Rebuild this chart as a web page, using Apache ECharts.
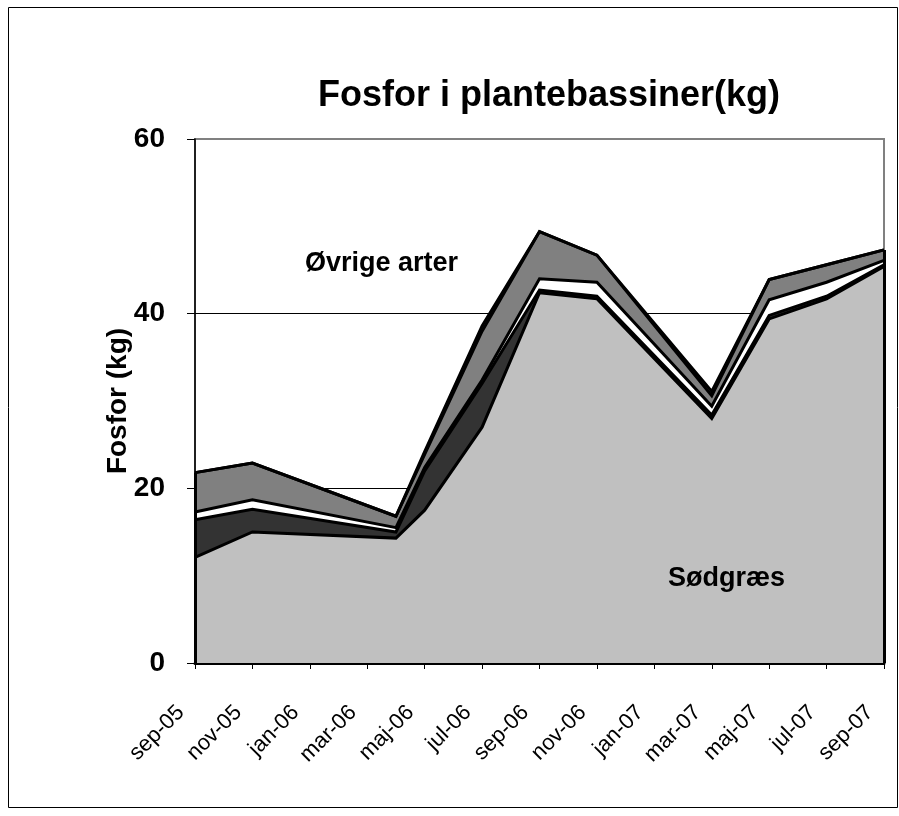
<!DOCTYPE html>
<html>
<head>
<meta charset="utf-8">
<script src="https://cdn.jsdelivr.net/npm/echarts@6/dist/echarts.min.js"></script>
<style>
  html, body { margin: 0; padding: 0; background: #fff; }
  #chart { width: 899px; height: 816px; }
</style>
</head>
<body>
<div id="chart"></div>
<script>
// Months counted from sep-05 (0) to sep-07 (24); sampling dates of the basins.
const sampleMonths = [0, 2, 7, 8, 10, 12, 14, 18, 20, 22, 24];

// Axis tick labels, one every second month.
const tickLabels = ['sep-05', 'nov-05', 'jan-06', 'mar-06', 'maj-06', 'jul-06', 'sep-06',
                    'nov-06', 'jan-07', 'mar-07', 'maj-07', 'jul-07', 'sep-07'];

// Phosphorus per plant group (kg), listed from the bottom layer up.
const soedgraes    = [12.1, 15.0, 14.3, 17.5, 27.0, 42.4, 41.7, 28.0, 39.4, 41.7, 45.4];
const moerkLag     = [4.3, 2.6, 0.7, 4.5, 5.0, 0.3, 0.3, 0.4, 0.4, 0.3, 0.2];
const hvidLag      = [0.9, 1.1, 0.5, 0.4, 0.4, 1.3, 1.6, 1.0, 1.8, 1.6, 0.5];
const oevrigeArter = [4.5, 4.2, 1.3, 1.5, 5.6, 5.4, 3.1, 1.2, 2.3, 2.0, 1.2];
const lillaLag     = [0, 0, 0, 0, 0, 0, 0, 0, 0, 0, 0];
const oeversteLag  = [0, 0, 0, 0.3, 0.6, 0, 0, 0.5, 0, 0, 0];

// Running totals: each layer is drawn as an area down to zero, the higher
// totals first so the lower layers paint over them.
const layers = [soedgraes, moerkLag, hvidLag, oevrigeArter, lillaLag, oeversteLag];
const cumulative = [];
layers.forEach((layer, k) => {
  cumulative.push(layer.map((v, i) => v + (k ? cumulative[k - 1][i] : 0)));
});
const pairs = arr => sampleMonths.map((m, i) => [m, +arr[i].toFixed(3)]);
const totals = cumulative[cumulative.length - 1];

const FONT = 'Liberation Sans, Arial, sans-serif';

function areaSeries(name, data, fill, extra) {
  return Object.assign({
    name: name,
    type: 'line',
    data: pairs(data),
    symbol: 'none',
    lineStyle: { color: '#000', width: 3, join: 'miter' },
    areaStyle: { color: fill, opacity: 1 },
    animation: false
  }, extra || {});
}

const chart = echarts.init(document.getElementById('chart'), null, { renderer: 'canvas' });

chart.setOption({
  backgroundColor: '#fff',
  animation: false,
  title: {
    text: 'Fosfor i plantebassiner(kg)',
    left: 544, top: 73, textAlign: 'center',
    textStyle: { fontFamily: FONT, fontWeight: 'bold', fontSize: 36, color: '#000' }
  },
  grid: {
    left: 195, right: 15, top: 139, bottom: 153,
    show: true, borderColor: '#808080', borderWidth: 2, backgroundColor: '#fff'
  },
  xAxis: {
    type: 'value', min: 0, max: 24, interval: 2,
    axisLine: { show: true, onZero: false, lineStyle: { color: '#000', width: 3 } },
    axisTick: { show: true, length: 6, lineStyle: { color: '#000', width: 1 } },
    splitLine: { show: false },
    axisLabel: {
      rotate: 45, margin: 32, padding: [0, 20, 0, 0],
      fontFamily: FONT, fontSize: 22, color: '#000',
      formatter: v => tickLabels[Math.round(v / 2)] || ''
    }
  },
  yAxis: {
    type: 'value', min: 0, max: 60, interval: 20,
    name: 'Fosfor (kg)', nameLocation: 'middle', nameRotate: 90, nameGap: 63,
    nameMoveOverlap: false,
    nameTextStyle: { fontFamily: FONT, fontWeight: 'bold', fontSize: 28, color: '#000' },
    axisLine: { show: true, lineStyle: { color: '#000', width: 1.5 } },
    axisTick: { show: true, length: 8, lineStyle: { color: '#000', width: 1 } },
    splitLine: { show: true, lineStyle: { color: ['#000', '#000', '#000', '#808080'], width: 1 } },
    axisLabel: { margin: 30, fontFamily: FONT, fontWeight: 'bold', fontSize: 28, color: '#000' }
  },
  series: [
    areaSeries('Øverste gruppe', cumulative[5], '#808080', {
      markLine: {
        silent: true, symbol: 'none', animation: false,
        label: { show: false },
        lineStyle: { color: '#000', width: 3, type: 'solid' },
        data: [
          [{ coord: [sampleMonths[0], 0] }, { coord: [sampleMonths[0], totals[0]] }],
          [{ coord: [sampleMonths[sampleMonths.length - 1], 0] },
           { coord: [sampleMonths[sampleMonths.length - 1], totals[totals.length - 1]] }]
        ]
      }
    }),
    {
      name: 'Lilla gruppe', type: 'line', data: pairs(cumulative[4]),
      symbol: 'none', lineStyle: { color: '#660066', width: 1.5 }, animation: false
    },
    areaSeries('Øvrige arter', cumulative[3], '#808080'),
    areaSeries('Hvid gruppe', cumulative[2], '#FFFFFF'),
    areaSeries('Mørk gruppe', cumulative[1], '#333333'),
    areaSeries('Sødgræs', cumulative[0], '#C0C0C0')
  ],
  graphic: [
    {
      type: 'rect', silent: true, z: -10,
      shape: { x: 8.5, y: 7.5, width: 889, height: 800 },
      style: { fill: 'none', stroke: '#000', lineWidth: 1 }
    },
    {
      type: 'text', left: 305, top: 250, z: 100,
      style: { text: 'Øvrige arter', fontFamily: FONT, fontWeight: 'bold', fontSize: 27, fill: '#000' }
    },
    {
      type: 'text', left: 668, top: 565, z: 100,
      style: { text: 'Sødgræs', fontFamily: FONT, fontWeight: 'bold', fontSize: 27, fill: '#000' }
    }
  ]
});
</script>
</body>
</html>
